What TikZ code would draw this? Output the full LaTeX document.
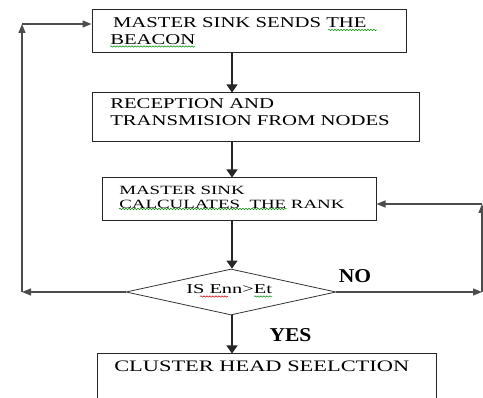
\documentclass[tikz,border=0pt]{standalone}
\usepackage{fontspec}
\setmainfont{Liberation Serif}
\usetikzlibrary{arrows.meta,shapes.geometric,decorations.pathmorphing}
\newcommand{\squiggle}[3]{%%
  \draw[squiggleStyle,#3] (#1) -- (#2);
}

\begin{document}
\begin{tikzpicture}[x=1pt,y=-1pt,%%
  boxStyle/.style={draw=black!85,rectangle,line width=1pt,inner sep=0pt},%%
  decisionStyle/.style={draw=black!80,diamond,line width=0.8pt,inner sep=0pt},%%
  textStyle/.style={inner sep=0pt,anchor=north west,align=left,transform shape},%%
  answerStyle/.style={inner sep=0pt,xscale=1.1,transform shape,font=\bfseries\fontsize{19.6}{22}\selectfont},%%
  downArrow/.style={draw=black!85,line width=1.2pt,-{Triangle[length=8pt,width=11pt]}},%%
  sideArrow/.style={draw=black!70,line width=1.2pt,-{Triangle[length=9pt,width=7pt]}},%%
  squiggleStyle/.style={line width=0.5pt,decorate,decoration={snake,amplitude=0.7pt,segment length=3pt}}%%
]
%%
\useasboundingbox (0,0) rectangle (483,398);
%%
%% Fixed points of the connectors.
\coordinate (spine) at (232,0);
\coordinate (loopBottom) at (22,292);
\coordinate (loopTop) at (22,24);
\coordinate (noCorner) at (482,292);
\coordinate (noTop) at (482,204);
%%
%% The boxes.
\node[boxStyle,minimum width=314pt,minimum height=43pt] (beacon) at (249,31.5) {};
\node[boxStyle,minimum width=327pt,minimum height=49pt] (reception) at (255.5,117.5) {};
\node[boxStyle,minimum width=274pt,minimum height=43pt] (rank) at (239,199.5) {};
\node[decisionStyle,minimum width=210pt,minimum height=46pt,aspect=4.5] (energy) at (231,292) {};
\node[boxStyle,minimum width=339pt,minimum height=50pt] (cluster) at (266.5,379) {};
%%
%% Texts of the boxes.
\node[textStyle,xscale=1.38,font=\fontsize{15}{17}\selectfont] (beaconText) at (110,17)
  {\hspace*{2pt}MASTER SINK SENDS THE\\BEACON};
\node[textStyle,xscale=1.38,font=\fontsize{15}{17}\selectfont] (receptionText) at (110,98)
  {RECEPTION AND\\TRANSMISION FROM NODES};
\node[textStyle,xscale=1.5,font=\fontsize{12.6}{13.6}\selectfont] (rankText) at (119,186)
  {MASTER SINK\\CALCULATES\ \ THE RANK};
\node[textStyle,xscale=1.5,font=\fontsize{13.6}{15}\selectfont] (energyText) at (186,284)
  {IS Enn>Et};
\node[textStyle,xscale=1.4,font=\fontsize{16}{18}\selectfont] (clusterText) at (114,361)
  {CLUSTER HEAD SEELCTION};
%%
%% The main flow.
\draw[downArrow] (beacon.south -| spine) -- (reception.north -| spine);
\draw[downArrow] (reception.south -| spine) -- (rank.north -| spine);
\draw[downArrow] (rank.south -| spine) -- (energy.north -| spine);
\draw[downArrow] (energy.south -| spine) -- (cluster.north -| spine);
%%
%% Loop back to the beacon.
\draw[sideArrow] (energy.west) -- (loopBottom);
\draw[sideArrow] (loopBottom) -- (loopTop);
\draw[sideArrow] (loopTop) -- (loopTop -| beacon.west);
%%
%% The NO branch back to the rank.
\draw[sideArrow] (energy.east) -- (noCorner);
\draw[sideArrow] (noCorner) -- (noTop);
\draw[sideArrow] (noTop) -- (noTop -| rank.east);
%%
%% Answers.
\node[answerStyle] (noLabel) at (355,276) {NO};
\node[answerStyle] (yesLabel) at (290.5,335) {YES};
%%
%% Spelling marks under some words.
\squiggle{328,30}{377,30}{green!55!black}
\squiggle{110,46.5}{195,46.5}{green!55!black}
\squiggle{119,209}{287,209}{green!55!black}
\squiggle{200,296.5}{228,296.5}{red!80!black}
\squiggle{254,296.5}{272,296.5}{green!55!black}
\end{tikzpicture}
\end{document}
